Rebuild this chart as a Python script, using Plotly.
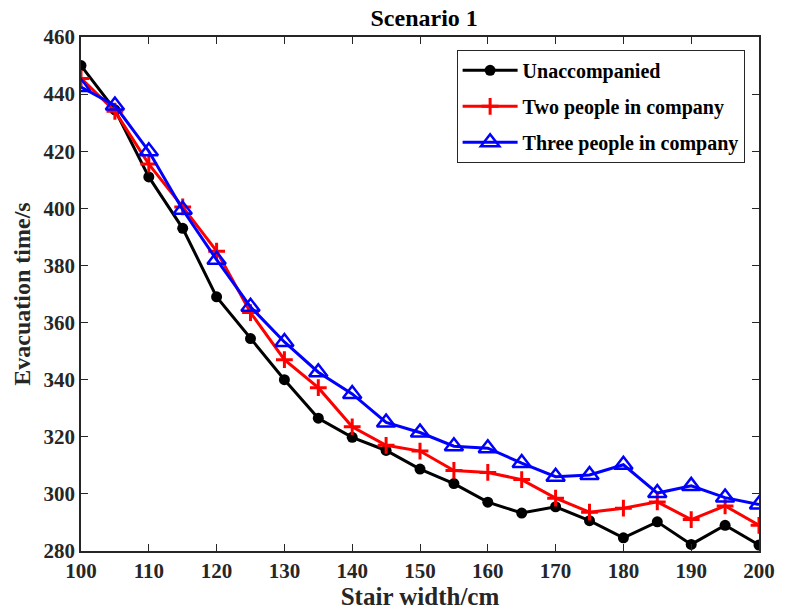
import plotly.graph_objects as go

widths = [100, 105, 110, 115, 120, 125, 130, 135, 140, 145, 150,
          155, 160, 165, 170, 175, 180, 185, 190, 195, 200]
unaccompanied = [450, 434.5, 411, 393, 369, 354.4, 340, 326.5, 319.8, 315.2, 308.7,
                 303.6, 297.1, 293.3, 295.5, 290.6, 284.6, 290.2, 282.3, 289, 282.1]
two_people = [445.5, 434, 415.5, 400.5, 385, 363.5, 347, 337.2, 323.5, 317, 315,
              308.2, 307.5, 305, 298.5, 293.6, 295, 297.2, 291, 295.8, 289]
three_people = [442.5, 436, 420, 399.5, 382, 365.5, 353.2, 342.6, 335, 325, 321.5,
                316.7, 316, 310.8, 306, 306.6, 310.2, 300.3, 302.8, 298.7, 296.3]

x_ticks = list(range(100, 201, 10))
y_ticks = list(range(280, 461, 20))

font_family = "Liberation Serif"

fig = go.Figure()
fig.add_trace(go.Scatter(
    x=widths, y=unaccompanied, name="<b>Unaccompanied</b>", mode="lines+markers",
    legendgroup="a",
    line=dict(color="black", width=3),
    marker=dict(symbol="circle", size=11, color="black")))
fig.add_trace(go.Scatter(
    x=widths, y=two_people, name="<b>Two people in company</b>", mode="lines+markers",
    legendgroup="b",
    line=dict(color="#ff0000", width=3),
    marker=dict(symbol="cross-thin", size=12, color="#ff0000",
                line=dict(color="#ff0000", width=3))))
fig.add_trace(go.Scatter(
    x=widths, y=three_people, name="<b>Three people in company</b>", mode="lines+markers",
    legendgroup="c",
    line=dict(color="#0000ff", width=3),
    marker=dict(symbol="triangle-up-open", size=16, color="#0000ff",
                line=dict(color="#0000ff", width=2.5))))

axis_common = dict(
    showline=True, linecolor="#262626", linewidth=1.5, mirror="ticks",
    ticks="inside", ticklen=7, tickcolor="#262626", tickwidth=1,
    showgrid=False, zeroline=False,
    tickfont=dict(family=font_family, size=21, color="#262626"),
)

fig.update_layout(
    width=787, height=615,
    margin=dict(l=81, r=18, t=37, b=64),
    paper_bgcolor="white", plot_bgcolor="white",
    font=dict(family=font_family, color="#262626"),
    title=dict(text="<b>Scenario 1</b>", x=0.539, xanchor="center",
               y=0.971, yanchor="middle",
               font=dict(family=font_family, size=24, color="#000000")),
    xaxis=dict(range=[100, 200], tickvals=x_ticks,
               ticktext=[f"<b>{v}</b>" for v in x_ticks],
               title=dict(text="<b>Stair width/cm</b>", standoff=3,
                          font=dict(family=font_family, size=25, color="#262626")),
               **axis_common),
    yaxis=dict(range=[280, 460], tickvals=y_ticks,
               ticktext=[f"<b>{v}</b>" for v in y_ticks],
               title=dict(text="<b>Evacuation time/s</b>", standoff=6,
                          font=dict(family=font_family, size=24, color="#262626")),
               **axis_common),
    legend=dict(x=0.554, y=0.975, xanchor="left", yanchor="top",
                bgcolor="white", bordercolor="#262626", borderwidth=1,
                font=dict(family=font_family, size=20, color="#000000"),
                itemwidth=55, tracegroupgap=7),
    showlegend=True,
)

fig.write_html("out.html")
